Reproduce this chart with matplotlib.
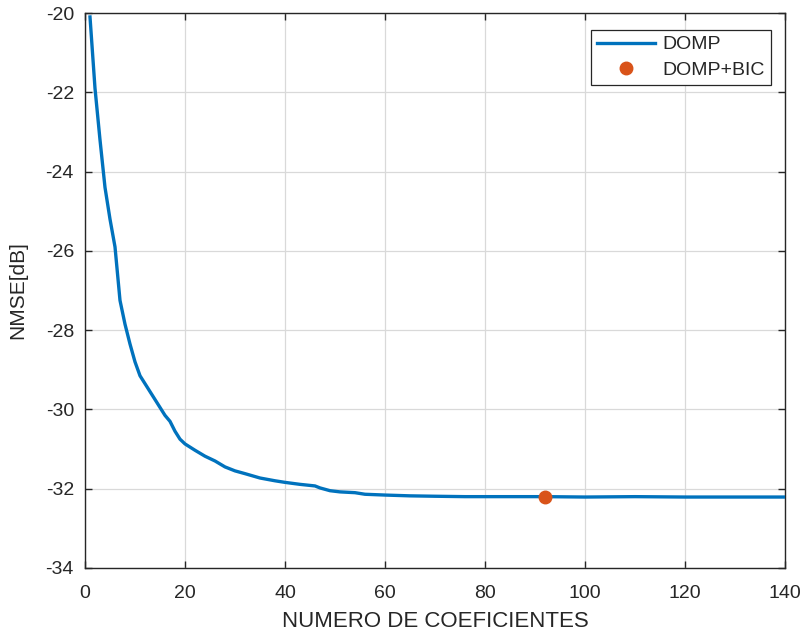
import matplotlib
matplotlib.use("Agg")
import matplotlib.pyplot as plt

n_coef = [1, 2, 3, 4, 5, 6, 7, 8, 9, 10, 11, 12, 13, 14, 15, 16, 17, 18, 19, 20,
          22, 24, 26, 28, 30, 32, 35, 38, 40, 43, 46, 47, 49, 51, 54, 56, 60, 65,
          70, 76, 80, 92, 100, 110, 120, 130, 140]
nmse_domp = [-20.1, -21.9, -23.2, -24.4, -25.2, -25.9, -27.25, -27.85, -28.35, -28.8,
             -29.15, -29.35, -29.55, -29.75, -29.95, -30.15, -30.3, -30.55, -30.75, -30.87,
             -31.03, -31.18, -31.3, -31.45, -31.55, -31.62, -31.73, -31.8, -31.84, -31.89,
             -31.93, -31.98, -32.05, -32.08, -32.1, -32.14, -32.16, -32.18,
             -32.19, -32.2, -32.2, -32.2, -32.21, -32.2, -32.21, -32.21, -32.21]
bic_x = [92]
bic_y = [-32.2]

xticks = [0, 20, 40, 60, 80, 100, 120, 140]
yticks = [-34, -32, -30, -28, -26, -24, -22, -20]

plt.rcParams['font.family'] = ['Liberation Sans', 'DejaVu Sans']
txt = '#262626'

fig = plt.figure(figsize=(8.08, 6.4), dpi=100)
ax = fig.add_axes([85/808, 1-568/640, 700/808, 555/640])

ax.plot(n_coef, nmse_domp, color='#0072BD', lw=2.4, label='DOMP', zorder=3)
ax.plot(bic_x, bic_y, 'o', color='#D95319', ms=9, label='DOMP+BIC', zorder=4)

ax.set_xlim(0, 140)
ax.set_ylim(-34, -20)
ax.set_xticks(xticks)
ax.set_yticks(yticks)
ax.set_xticklabels([str(v) for v in xticks])
ax.set_yticklabels([str(v) for v in yticks])
ax.grid(True, color='#d9d9d9', lw=0.9)
ax.set_axisbelow(True)
ax.tick_params(direction='in', length=5, width=1, top=True, right=True,
               labelsize=14, colors=txt)
ax.tick_params(axis='x', pad=12)
ax.tick_params(axis='y', pad=8)
for s in ax.spines.values():
    s.set_color(txt)
    s.set_linewidth(1)

ax.set_xlabel('NUMERO DE COEFICIENTES', fontsize=16, color=txt, labelpad=7)
ax.set_ylabel('NMSE[dB]', fontsize=15, color=txt, labelpad=13)

leg = ax.legend(loc='upper right', bbox_to_anchor=(771/808, 1-30/640),
                bbox_transform=fig.transFigure, fontsize=14, frameon=True,
                fancybox=False, edgecolor=txt, framealpha=1, borderpad=0.3,
                handlelength=3.0, labelspacing=0.4, handletextpad=0.4,
                borderaxespad=0)
leg.get_frame().set_linewidth(0.9)
for t in leg.get_texts():
    t.set_color(txt)

fig.savefig('out.png', dpi=100)
